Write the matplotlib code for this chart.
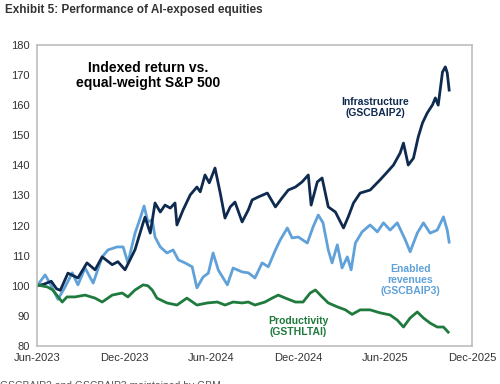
import numpy as np
import pandas as pd
import matplotlib
matplotlib.use('Agg')
import matplotlib.pyplot as plt
import matplotlib.dates as mdates

# Infrastructure (GSCBAIP2)
infra_dates = ['2023-06-01', '2023-06-15', '2023-07-01', '2023-07-12', '2023-07-20', '2023-08-05',
               '2023-08-26', '2023-09-14', '2023-10-01', '2023-10-16', '2023-11-06', '2023-11-18',
               '2023-12-03', '2023-12-24', '2024-01-10', '2024-01-14', '2024-01-25', '2024-02-04',
               '2024-02-15', '2024-02-25', '2024-03-07', '2024-03-17', '2024-03-21', '2024-04-03',
               '2024-04-18', '2024-05-02', '2024-05-09', '2024-05-19', '2024-05-28', '2024-06-09',
               '2024-06-20', '2024-06-30', '2024-07-11', '2024-07-21', '2024-08-05', '2024-08-18',
               '2024-08-26', '2024-09-08', '2024-09-27', '2024-10-14', '2024-10-28', '2024-11-10',
               '2024-11-25', '2024-12-09', '2024-12-22', '2024-12-28', '2025-01-10', '2025-01-20',
               '2025-02-02', '2025-02-17', '2025-03-06', '2025-03-16', '2025-03-27', '2025-04-10',
               '2025-05-01', '2025-05-22', '2025-06-06', '2025-06-19', '2025-07-03', '2025-07-10',
               '2025-07-20', '2025-07-31', '2025-08-10', '2025-08-19', '2025-08-29', '2025-09-09',
               '2025-09-15', '2025-09-21', '2025-09-30', '2025-10-06', '2025-10-10', '2025-10-14']
infra_vals = [100, 100.5, 101.5, 99.0, 98.5, 104.2,
              102.6, 107.6, 105.3, 109.6, 107.0, 108.0,
              105.3, 112.0, 120.9, 122.8, 117.5, 127.5,
              124.5, 126.8, 125.8, 127.5, 120.2, 125.2,
              130.2, 132.8, 131.2, 136.8, 134.2, 139.1,
              130.8, 122.5, 126.2, 127.8, 121.2, 125.2,
              128.5, 129.5, 130.8, 126.2, 129.2, 131.8,
              132.8, 134.5, 136.8, 126.8, 134.5, 135.8,
              126.2, 124.5, 119.2, 122.9, 127.5, 130.8,
              131.8, 135.2, 137.8, 140.1, 144.1, 147.4,
              140.1, 142.4, 149.4, 154.1, 157.4, 160.1,
              162.4, 160.0, 171.0, 172.7, 170.7, 165.0]

# Enabled revenues (GSCBAIP3)
enabled_dates = ['2023-06-01', '2023-06-18', '2023-06-28', '2023-07-15', '2023-07-30', '2023-08-14',
                 '2023-08-26', '2023-09-10', '2023-09-27', '2023-10-16', '2023-10-28', '2023-11-16',
                 '2023-11-29', '2023-12-09', '2023-12-24', '2024-01-04', '2024-01-12', '2024-01-20',
                 '2024-01-29', '2024-02-04', '2024-02-15', '2024-02-29', '2024-03-13', '2024-03-24',
                 '2024-04-07', '2024-04-22', '2024-05-02', '2024-05-15', '2024-05-26', '2024-06-05',
                 '2024-06-16', '2024-07-05', '2024-07-17', '2024-08-05', '2024-08-18', '2024-09-01',
                 '2024-09-16', '2024-09-29', '2024-10-14', '2024-10-24', '2024-11-08', '2024-11-18',
                 '2024-12-01', '2024-12-20', '2025-01-01', '2025-01-12', '2025-01-22', '2025-02-02',
                 '2025-02-10', '2025-02-21', '2025-03-03', '2025-03-14', '2025-03-22', '2025-03-31',
                 '2025-04-14', '2025-05-01', '2025-05-16', '2025-05-29', '2025-06-12', '2025-06-27',
                 '2025-07-14', '2025-07-24', '2025-08-08', '2025-08-21', '2025-09-04', '2025-09-19',
                 '2025-10-02', '2025-10-10', '2025-10-14']
enabled_vals = [100, 103.6, 100.9, 95.5, 99.6, 104.3,
                100.3, 105.9, 100.9, 109.6, 111.9, 112.9,
                112.9, 107.6, 117.5, 122.5, 126.5, 121.2,
                121.9, 116.2, 112.9, 110.9, 111.9, 108.6,
                107.6, 106.3, 99.3, 102.9, 104.2, 110.9,
                105.2, 100.3, 105.9, 104.6, 104.3, 102.6,
                107.6, 106.3, 111.9, 115.2, 119.2, 115.9,
                116.2, 114.2, 119.5, 123.5, 120.9, 111.9,
                107.6, 113.6, 105.9, 109.6, 105.3, 114.2,
                117.9, 120.2, 117.9, 120.9, 118.5, 120.9,
                115.2, 111.3, 117.5, 120.9, 117.5, 118.5,
                122.9, 118.5, 114.5]

# Productivity (GSTHLTAI)
prod_dates = ['2023-06-01', '2023-06-23', '2023-07-04', '2023-07-24', '2023-08-03', '2023-08-20',
              '2023-09-10', '2023-10-01', '2023-10-16', '2023-11-06', '2023-11-27', '2023-12-09',
              '2023-12-24', '2024-01-10', '2024-01-20', '2024-01-29', '2024-02-08', '2024-02-29',
              '2024-03-21', '2024-04-11', '2024-05-02', '2024-05-24', '2024-06-14', '2024-06-30',
              '2024-07-17', '2024-08-05', '2024-08-18', '2024-09-01', '2024-09-22', '2024-10-07',
              '2024-10-20', '2024-11-04', '2024-11-25', '2024-12-11', '2024-12-26', '2025-01-06',
              '2025-01-20', '2025-02-02', '2025-02-21', '2025-03-10', '2025-03-24', '2025-04-10',
              '2025-05-01', '2025-05-22', '2025-06-12', '2025-06-27', '2025-07-10', '2025-07-24',
              '2025-08-08', '2025-08-21', '2025-09-04', '2025-09-19', '2025-10-02', '2025-10-12']
prod_vals = [100.3, 99.6, 98.6, 94.6, 96.3, 96.3,
             96.9, 95.9, 94.6, 96.9, 97.6, 96.3,
             98.6, 100.3, 100.0, 98.6, 95.9, 94.3,
             93.6, 95.9, 93.6, 94.3, 94.6, 93.6,
             94.6, 94.3, 94.6, 93.6, 94.6, 95.9,
             96.9, 95.9, 94.6, 94.6, 97.6, 98.6,
             96.3, 94.3, 93.0, 92.0, 90.5, 92.0,
             92.0, 91.0, 90.3, 88.6, 86.3, 89.3,
             91.3, 89.3, 87.6, 86.3, 86.3, 84.6]

tick_dates = ['2023-06-01', '2023-12-01', '2024-06-01', '2024-12-01', '2025-06-01', '2025-12-01']

c_infra = '#0e2a4e'
c_enabled = '#5fa1d8'
c_prod = '#1f7a3d'
txt = '#333333'

plt.rcParams['font.family'] = ['Liberation Sans', 'DejaVu Sans']

fig = plt.figure(figsize=(5.0, 3.84), dpi=100)
ax = fig.add_axes([0.074, 0.099, 0.870, 0.784])

ax.plot(pd.to_datetime(enabled_dates), enabled_vals, color=c_enabled, lw=2.0)
ax.plot(pd.to_datetime(infra_dates), infra_vals, color=c_infra, lw=2.0)
ax.plot(pd.to_datetime(prod_dates), prod_vals, color=c_prod, lw=2.0)

ax.set_xlim(pd.Timestamp('2023-06-01'), pd.Timestamp('2025-12-01'))
ax.set_ylim(80, 180)
ax.set_yticks(np.arange(80, 181, 10))
ax.set_xticks(pd.to_datetime(tick_dates))
ax.xaxis.set_major_formatter(mdates.DateFormatter('%b-%Y'))
ax.tick_params(length=0, labelsize=8, labelcolor=txt)
ax.tick_params(axis='y', pad=5)
ax.tick_params(axis='x', pad=5)
for axis in ['top', 'bottom', 'left', 'right']:
    ax.spines[axis].set_color('#bdbdbd')
    ax.spines[axis].set_linewidth(1.2)

ax.text(0.255, 0.945, 'Indexed return vs.\nequal-weight S&P 500', transform=ax.transAxes,
        ha='center', va='top', fontsize=10, fontweight='bold', color='black', linespacing=1.05)
ax.text(0.777, 0.828, 'Infrastructure\n(GSCBAIP2)', transform=ax.transAxes,
        ha='center', va='top', fontsize=7.5, fontweight='bold', color=c_infra, linespacing=1.1)
ax.text(0.858, 0.272, 'Enabled\nrevenues\n(GSCBAIP3)', transform=ax.transAxes,
        ha='center', va='top', fontsize=7.5, fontweight='bold', color=c_enabled, linespacing=1.1)
ax.text(0.6, 0.100, 'Productivity\n(GSTHLTAI)', transform=ax.transAxes,
        ha='center', va='top', fontsize=7.5, fontweight='bold', color=c_prod, linespacing=1.1)

fig.text(0.01, 0.974, 'Exhibit 5: Performance of AI-exposed equities', ha='left', va='center',
         fontsize=8.5, fontweight='bold', color=txt)
fig.text(0.0, -0.005, 'GSCBAIP2 and GSCBAIP3 maintained by GBM.', ha='left', va='center',
         fontsize=7.5, color='#555555')

fig.savefig('out.png', dpi=100)
